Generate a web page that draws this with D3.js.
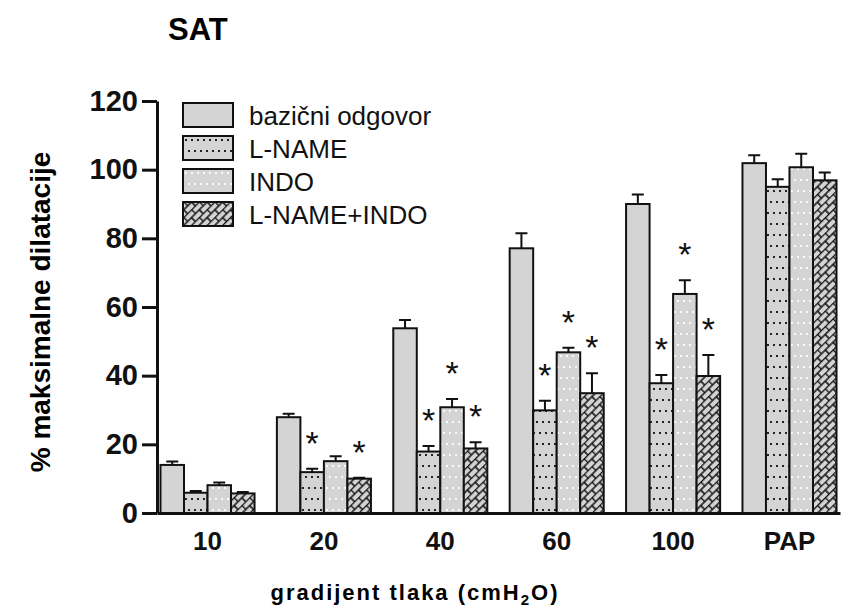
<!DOCTYPE html>
<html>
<head>
  <meta charset="utf-8">
  <script src="https://cdn.jsdelivr.net/npm/d3@7"></script>
  <style>
    body { margin: 0; background: #fff; }
    text { font-family: "Liberation Sans", Arial, sans-serif; }
  </style>
</head>
<body>
<script>
  // data
  var groups = ["10", "20", "40", "60", "100", "PAP"];
  var seriesNames = ["bazični odgovor", "L-NAME", "INDO", "L-NAME+INDO"];

  var bazicni     = [14.0, 27.9, 53.8, 77.1, 90.0, 101.9];
  var bazicniErr  = [1.0, 1.0, 2.4, 4.4, 2.8, 2.3];
  var lname       = [5.9, 11.9, 17.9, 29.9, 37.8, 95.0];
  var lnameErr    = [0.5, 1.0, 1.6, 2.8, 2.4, 2.2];
  var indo        = [8.1, 15.1, 30.8, 46.8, 63.8, 100.7];
  var indoErr     = [0.8, 1.4, 2.4, 1.3, 4.0, 3.9];
  var lnameIndo   = [5.7, 10.0, 18.8, 34.9, 39.9, 96.9];
  var lnameIndoErr = [0.4, 0.3, 1.8, 5.8, 6.1, 2.3];

  // significance stars (1 = star above the bar)
  var bazicniSig   = [0, 0, 0, 0, 0, 0];
  var lnameSig     = [0, 1, 1, 1, 1, 0];
  var indoSig      = [0, 0, 1, 1, 1, 0];
  var lnameIndoSig = [0, 1, 1, 1, 1, 0];

  var yTicks = [0, 20, 40, 60, 80, 100, 120];

  var allValues = [bazicni, lname, indo, lnameIndo];
  var allErrors = [bazicniErr, lnameErr, indoErr, lnameIndoErr];
  var allSig = [bazicniSig, lnameSig, indoSig, lnameIndoSig];

  var fills = ["#d4d4d4", "url(#dotsBlack)", "url(#dotsWhite)", "url(#brick)"];

  var width = 843, height = 609;
  var svg = d3.select("body").append("svg")
      .attr("width", width)
      .attr("height", height);

  // patterns
  var defs = svg.append("defs");

  var p1 = defs.append("pattern").attr("id", "dotsBlack")
      .attr("patternUnits", "userSpaceOnUse").attr("width", 12).attr("height", 22);
  p1.append("rect").attr("width", 12).attr("height", 22).attr("fill", "#d4d4d4");
  [[3, 4], [9, 4], [6, 15], [12, 15], [0, 15]].forEach(function(d) {
    p1.append("rect").attr("x", d[0] - 1).attr("y", d[1] - 1)
      .attr("width", 2).attr("height", 2).attr("fill", "#222");
  });

  var p2 = defs.append("pattern").attr("id", "dotsWhite")
      .attr("patternUnits", "userSpaceOnUse").attr("width", 12).attr("height", 22);
  p2.append("rect").attr("width", 12).attr("height", 22).attr("fill", "#d4d4d4");
  [[3, 4], [9, 4], [6, 15], [12, 15], [0, 15]].forEach(function(d) {
    p2.append("rect").attr("x", d[0] - 1).attr("y", d[1] - 1)
      .attr("width", 2).attr("height", 2).attr("fill", "#fafafa");
  });

  var p3 = defs.append("pattern").attr("id", "brick")
      .attr("patternUnits", "userSpaceOnUse").attr("width", 11).attr("height", 11)
      .attr("patternTransform", "rotate(-45)");
  p3.append("rect").attr("width", 11).attr("height", 11).attr("fill", "#d4d4d4");
  p3.append("path")
      .attr("d", "M0,0.5H11M0,6H11M0.5,0.5V6M6,6V11.5")
      .attr("stroke", "#111").attr("stroke-width", 1.6).attr("fill", "none");

  // scales
  var x = d3.scaleBand().domain(groups).range([157, 840])
      .paddingInner(0.192).paddingOuter(0.03);
  var xs = d3.scaleBand().domain(d3.range(4)).range([0, x.bandwidth()]);
  var y = d3.scaleLinear().domain([0, 120]).range([513, 101]);

  // title
  svg.append("text").attr("x", 168).attr("y", 40)
      .style("font-size", "31px").style("font-weight", "bold").text("SAT");

  // bars
  var barRows = [];
  allValues.forEach(function(vals, s) {
    vals.forEach(function(v, i) {
      barRows.push({ s: s, g: groups[i], v: v, e: allErrors[s][i], sig: allSig[s][i] });
    });
  });

  var bars = svg.append("g");

  // error bars (upper only)
  bars.selectAll("path.err").data(barRows).enter().append("path")
      .attr("class", "err")
      .attr("d", function(d) {
        var cx = x(d.g) + xs(d.s) + xs.bandwidth() / 2;
        var top = y(d.v + d.e);
        return "M" + cx + "," + y(d.v) + "V" + top + "M" + (cx - 6) + "," + top + "H" + (cx + 6);
      })
      .attr("stroke", "#111").attr("stroke-width", 2).attr("fill", "none");

  bars.selectAll("rect").data(barRows).enter().append("rect")
      .attr("x", function(d) { return x(d.g) + xs(d.s); })
      .attr("y", function(d) { return y(d.v); })
      .attr("width", xs.bandwidth())
      .attr("height", function(d) { return y(0) - y(d.v); })
      .attr("fill", function(d) { return fills[d.s]; })
      .attr("stroke", "#111").attr("stroke-width", 2);

  // stars
  bars.selectAll("text.star").data(barRows.filter(function(d) { return d.sig; }))
      .enter().append("text")
      .attr("class", "star")
      .attr("x", function(d) { return x(d.g) + xs(d.s) + xs.bandwidth() / 2; })
      .attr("y", function(d) { return y(d.v + d.e) - 14; })
      .attr("text-anchor", "middle")
      .style("font-size", "34px")
      .attr("fill", "#111")
      .text("*");

  // y axis
  var yAxis = svg.append("g")
      .attr("transform", "translate(157,0)")
      .call(d3.axisLeft(y).tickValues(yTicks).tickSize(15).tickSizeOuter(0).tickPadding(4));
  yAxis.select(".domain").attr("stroke", "#111").attr("stroke-width", 3);
  yAxis.selectAll(".tick line").attr("stroke", "#111").attr("stroke-width", 3);
  yAxis.selectAll(".tick text")
      .style("font-size", "29px").style("font-weight", "bold")
      .style("font-family", "'Liberation Sans', Arial, sans-serif")
      .attr("fill", "#111");

  // x axis
  var xAxis = svg.append("g")
      .attr("transform", "translate(0,513)")
      .call(d3.axisBottom(x).tickSize(0).tickSizeOuter(0).tickPadding(19));
  xAxis.select(".domain").attr("stroke", "#111").attr("stroke-width", 3);
  xAxis.selectAll(".tick text")
      .style("font-size", "26px").style("font-weight", "bold")
      .style("font-family", "'Liberation Sans', Arial, sans-serif")
      .attr("fill", "#111");

  // axis titles
  svg.append("text")
      .attr("transform", "translate(50,312) rotate(-90)")
      .attr("text-anchor", "middle")
      .style("font-size", "28px").style("font-weight", "bold")
      .text("% maksimalne dilatacije");

  var xt = svg.append("text")
      .attr("x", 415).attr("y", 600)
      .attr("text-anchor", "middle")
      .style("font-size", "22px").style("font-weight", "bold")
      .style("letter-spacing", "2px");
  xt.append("tspan").text("gradijent tlaka (cmH");
  xt.append("tspan").attr("dy", 5).style("font-size", "15px").text("2");
  xt.append("tspan").attr("dy", -5).text("O)");

  // legend
  var legend = svg.append("g").attr("transform", "translate(183,103)");
  seriesNames.forEach(function(name, i) {
    var row = legend.append("g").attr("transform", "translate(0," + (i * 33) + ")");
    row.append("rect").attr("width", 50).attr("height", 24)
        .attr("fill", fills[i]).attr("stroke", "#111").attr("stroke-width", 2);
    row.append("text").attr("x", 66).attr("y", 22)
        .style("font-size", "26px").attr("fill", "#111").text(name);
  });
</script>
</body>
</html>
